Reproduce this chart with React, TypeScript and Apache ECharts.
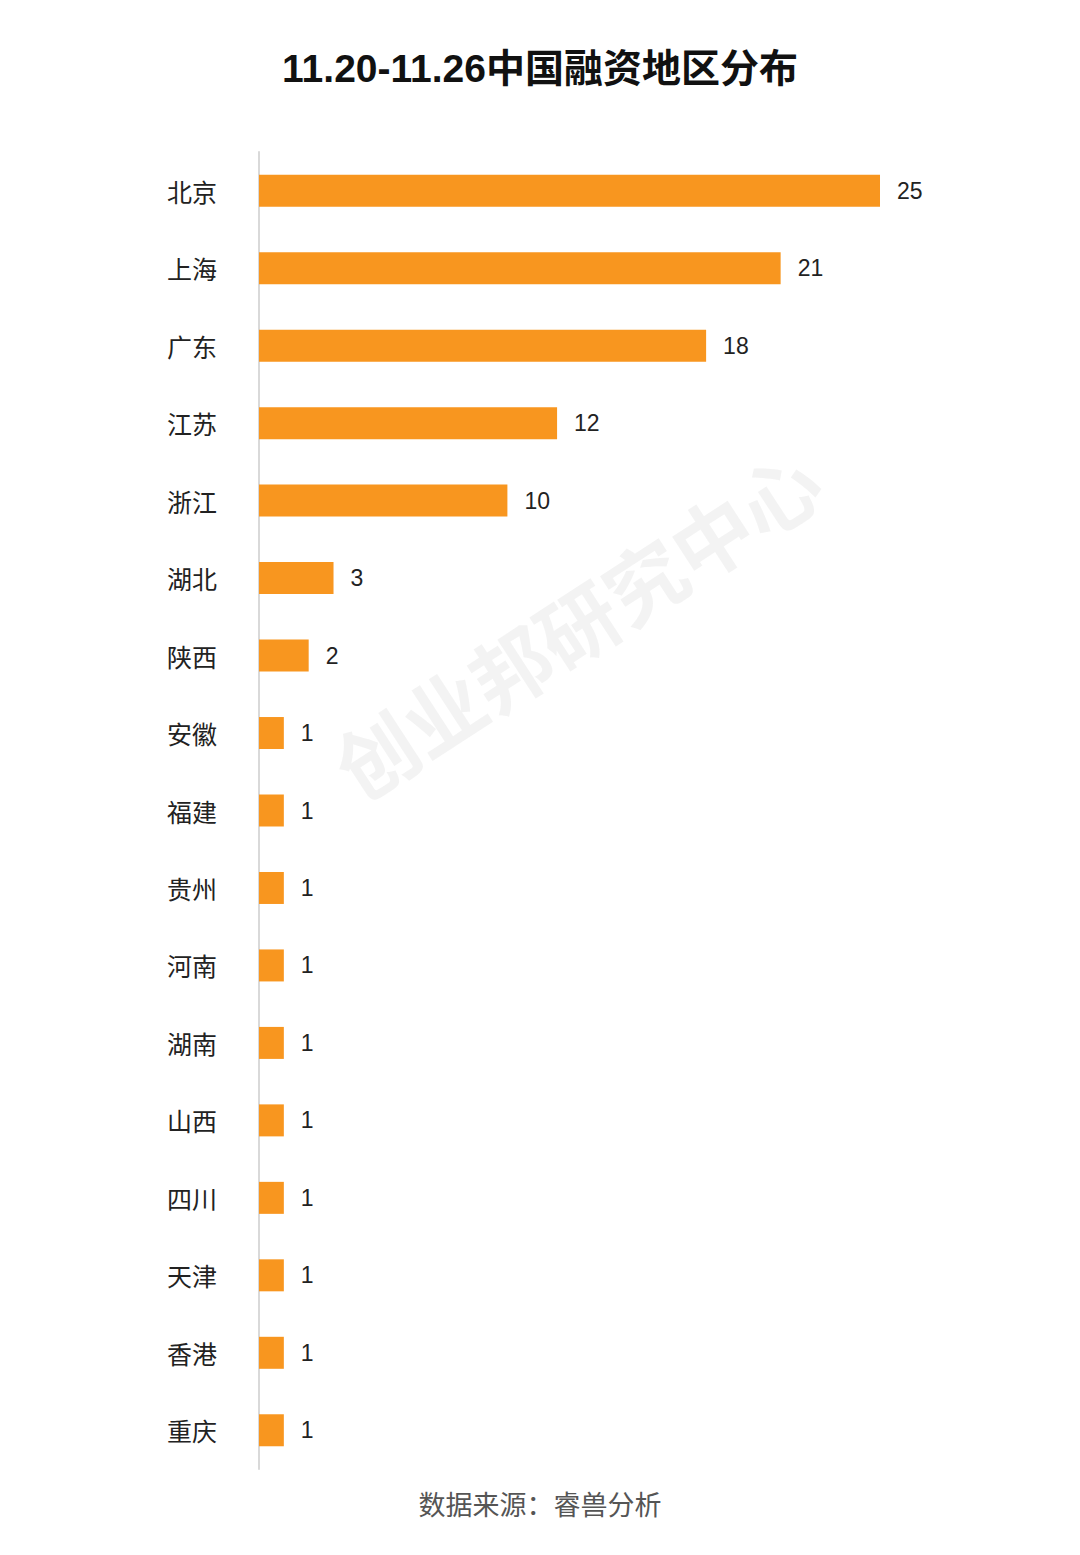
import React, { useEffect, useRef } from "react";
import * as echarts from "echarts";

const regions = ["北京", "上海", "广东", "江苏", "浙江", "湖北", "陕西", "安徽", "福建", "贵州", "河南", "湖南", "山西", "四川", "天津", "香港", "重庆"];
const counts = [25, 21, 18, 12, 10, 3, 2, 1, 1, 1, 1, 1, 1, 1, 1, 1, 1];
const titleText = "11.20-11.26中国融资地区分布";
const sourceText = "数据来源：睿兽分析";
const watermarkText = "创业邦研究中心";

export default function App() {
  const ref = useRef<HTMLDivElement>(null);
  useEffect(() => {
    if (!ref.current) return;
    const chart = echarts.init(ref.current, null, { renderer: "svg" });
    const font = "'Noto Sans CJK SC', 'Noto Sans', sans-serif";
    chart.setOption({
      animation: false,
      backgroundColor: "#ffffff",
      title: {
        text: titleText,
        left: "center",
        top: 44,
        textStyle: {
          fontSize: 39,
          fontWeight: "bold",
          color: "#111",
          fontFamily: "'Liberation Sans', 'Noto Sans CJK SC', sans-serif",
        },
      },
      graphic: [
        {
          type: "text",
          x: 576,
          y: 622,
          rotation: (33 * Math.PI) / 180,
          z: -10,
          style: {
            text: watermarkText,
            fontSize: 80,
            fontWeight: "bold",
            fontFamily: font,
            fill: "rgba(200,200,200,0.22)",
            textAlign: "center",
            textVerticalAlign: "middle",
          },
        },
        {
          type: "text",
          x: 540,
          y: 1503,
          style: {
            text: sourceText,
            fontSize: 27,
            fontFamily: font,
            fill: "#555",
            textAlign: "center",
            textVerticalAlign: "middle",
          },
        },
      ],
      grid: { left: 259, right: 200, top: 152, bottom: 86, containLabel: false },
      xAxis: {
        type: "value",
        min: 0,
        max: 25,
        show: false,
      },
      yAxis: {
        type: "category",
        data: regions,
        inverse: true,
        axisLine: { show: true, lineStyle: { color: "#d9d9d9", width: 2 } },
        axisTick: { show: false },
        axisLabel: { margin: 42, fontSize: 25, color: "#222", fontFamily: font, padding: [0, 0, 3, 0] },
      },
      series: [
        {
          type: "bar",
          data: counts,
          barWidth: 32,
          itemStyle: { color: "#F8961F" },
          label: {
            show: true,
            position: "right",
            distance: 17,
            fontSize: 23,
            color: "#222",
            fontFamily: "'Liberation Sans', Arial, sans-serif",
          },
        },
      ],
    });
    return () => chart.dispose();
  }, []);
  return <div ref={ref} style={{ position: "absolute", left: 0, top: 0, width: 1080, height: 1555 }} />;
}
